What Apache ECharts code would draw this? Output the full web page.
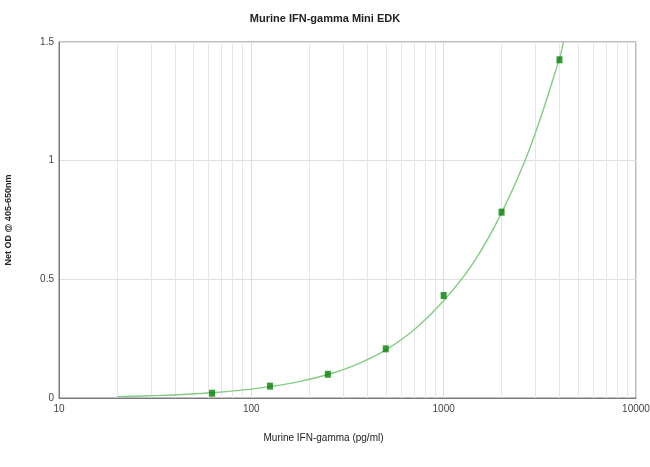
<!DOCTYPE html>
<html>
    <head>
        <meta charset="utf-8">
        <title>Murine IFN-gamma Mini EDK</title>
        <script src="https://cdn.jsdelivr.net/npm/echarts@6/dist/echarts.min.js"></script>
        <style>
            html, body { margin: 0; padding: 0; background: #fff; }
        </style>
    </head>
    <body>
        <div id="main" style="width: 650px;height:467px;"></div>
        <script type="text/javascript">
            // standards (pg/ml) and measured OD
            var stdConc = [62.5, 125, 250, 500, 1000, 2000, 4000];
            var stdOD = [0.020, 0.050, 0.100, 0.207, 0.432, 0.783, 1.425];

            // fitted curve
            var curveConc = [20, 31.25, 44.2, 62.5, 88.4, 125, 176.8, 250, 353.6, 500, 707, 1000, 1414, 2000, 2828, 4000, 4190];
            var curveOD = [0.006, 0.010, 0.015, 0.022, 0.033, 0.048, 0.069, 0.099, 0.142, 0.203, 0.290, 0.410, 0.565, 0.780, 1.060, 1.430, 1.500];

            var yTicks = [0, 0.5, 1, 1.5];

            var myChart = echarts.init(document.getElementById('main'));

            var points = [];
            for (var i = 0; i < stdConc.length; i++) {
                points.push([stdConc[i], stdOD[i]]);
            }
            var curve = [];
            for (var j = 0; j < curveConc.length; j++) {
                curve.push([curveConc[j], curveOD[j]]);
            }

            var font = '"Liberation Sans Narrow", "Liberation Sans", Arial, sans-serif';

            var option = {
                animation: false,
                title: {
                    text: 'Murine IFN-gamma Mini EDK',
                    left: 'center',
                    top: 8,
                    textStyle: { fontFamily: font, fontSize: 11, fontWeight: 'bold', color: '#222' }
                },
                grid: {
                    left: 59, right: 14, top: 42, bottom: 69,
                    outerBoundsMode: 'none',
                    show: true, borderColor: '#7a7a7a', borderWidth: 1
                },
                xAxis: {
                    type: 'log',
                    logBase: 10,
                    min: 10,
                    max: 10000,
                    name: 'Murine IFN-gamma (pg/ml)',
                    nameLocation: 'middle',
                    nameGap: 35,
                    nameTextStyle: { fontFamily: font, fontSize: 10, color: '#222', padding: [0, 48, 0, 0] },
                    axisLine: { lineStyle: { color: '#7a7a7a' } },
                    axisTick: { show: false },
                    axisLabel: {
                        fontFamily: font, fontSize: 10, color: '#444', margin: 6,
                        formatter: function (v) { return String(Math.round(v)); }
                    },
                    splitLine: { show: true, lineStyle: { color: '#dcdcdc', width: 1 } },
                    minorTick: { show: false, splitNumber: 9 },
                    minorSplitLine: { show: true, lineStyle: { color: '#e6e6e6', width: 1 } }
                },
                yAxis: {
                    type: 'value',
                    min: yTicks[0],
                    max: yTicks[yTicks.length - 1],
                    interval: 0.5,
                    name: 'Net OD @ 405-650nm',
                    nameLocation: 'middle',
                    nameGap: 46,
                    nameTextStyle: { fontFamily: font, fontSize: 9, fontWeight: 'bold', color: '#222' },
                    axisLine: { show: true, lineStyle: { color: '#7a7a7a' } },
                    axisTick: { show: false },
                    axisLabel: { fontFamily: font, fontSize: 10, color: '#444', margin: 5 },
                    splitLine: { show: true, lineStyle: { color: '#e0e0e0', width: 1 } }
                },
                series: [
                    {
                        name: 'fit',
                        type: 'line',
                        data: curve,
                        smooth: 0.4,
                        showSymbol: false,
                        lineStyle: { color: '#82cc82', width: 1.4 },
                        z: 2
                    },
                    {
                        name: 'standards',
                        type: 'scatter',
                        data: points,
                        symbol: 'rect',
                        symbolSize: [6, 7],
                        itemStyle: { color: '#047f04' },
                        z: 3
                    }
                ]
            };

            myChart.setOption(option);
        </script>
    </body>
</html>
